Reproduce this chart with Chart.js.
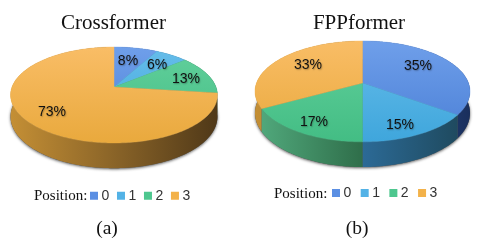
<!DOCTYPE html>
<html><head><meta charset="utf-8">
<script src="https://cdn.jsdelivr.net/npm/chart.js@4"></script>
<style>
html,body{margin:0;padding:0;background:#fff;width:484px;height:246px;overflow:hidden}
.w{position:absolute;top:0;height:246px}
canvas{display:block;filter:blur(.3px)}
</style></head><body>
<div class="w" style="left:0;width:227px"><canvas id="a"></canvas></div>
<div class="w" style="left:242px;width:234px"><canvas id="b"></canvas></div>
<script>
const positions = ['0','1','2','3'];
const crossformerValues = [8,6,13,73];
const fppformerValues = [35,15,17,33];
const titles = ['Crossformer','FPPformer'];
const captions = ['(a)','(b)'];
const legendPrefix = 'Position:';

const baseColors = ['#5b8fe3','#53b2e6','#4ec78f','#f3b24a'];
const topLight = ['#6f9fea','#66bdea','#62d09c','#f9bd66'];
const topDark  = ['#4a7fd6','#3fa6dc','#43bd84','#e9a93d'];
const wallLeft = ['#4a78c0','#5aa8d0','#52ab7e','#c48f35'];
const wallMid  = ['#2f5aa0','#2c6a96','#2f6e4a','#8a6428'];
const wallRight= ['#1a2f5c','#1d4658','#1e4a30','#4f3818'];

const K = 1/6, DEPTH = 21;

const pie3d = {
  id:'pie3d',
  afterLayout(chart,_,o){
    const l = chart.legend, p = l.options.labels.padding;
    l.left = o.legendX - p; l.right = l.left + 400; l.top = o.legendY - p; l.bottom = l.top + 50;
  },
  beforeDatasetDraw(chart,args,o){
    const ctx = chart.ctx, arcs = args.meta.data, vals = chart.data.datasets[0].data;
    const a0 = arcs[0], R = a0.outerRadius, S = R*o.tilt;
    const ax = a0.x + o.dx, ay = o.apexY;
    const pt = (t,d)=>{const u=Math.cos(t),v=Math.sin(t),w=1-K*v;return [ax+R*u/w, ay+S*v/w+(d?DEPTH/w:0)];};
    const rx = R*1.0142, minX = ax-rx, maxX = ax+rx;
    const steps = a=>Math.max(2,Math.ceil(Math.abs(a)*60));
    const rimPath = (s,e,d,move)=>{const n=steps(e-s);for(let i=0;i<=n;i++){const p=pt(s+(e-s)*i/n,d);(i||!move)?ctx.lineTo(p[0],p[1]):ctx.moveTo(p[0],p[1]);}};
    ctx.save();
    ctx.save();
    ctx.shadowColor='rgba(0,0,0,.65)';ctx.shadowBlur=3;ctx.shadowOffsetY=1;ctx.fillStyle='#555';
    ctx.beginPath();rimPath(0,Math.PI*2,true,true);ctx.closePath();ctx.fill();
    ctx.restore();
    arcs.forEach((arc,i)=>{
      const g = ctx.createLinearGradient(minX,0,maxX,0);
      g.addColorStop(0,wallLeft[i]);g.addColorStop(.5,wallMid[i]);g.addColorStop(1,wallRight[i]);
      ctx.fillStyle=g;
      ctx.beginPath();rimPath(arc.startAngle,arc.endAngle,false,true);rimPath(arc.endAngle,arc.startAngle,true,false);ctx.closePath();ctx.fill();
    });
    arcs.forEach((arc,i)=>{
      const g = ctx.createLinearGradient(0,ay-S/(1+K),0,ay+S/(1-K));
      g.addColorStop(0,topLight[i]);g.addColorStop(1,topDark[i]);
      ctx.fillStyle=g;ctx.strokeStyle=g;ctx.lineWidth=.4;
      ctx.beginPath();ctx.moveTo(ax,ay);rimPath(arc.startAngle,arc.endAngle,false,false);ctx.closePath();ctx.fill();ctx.stroke();
    });
    ctx.font='14px "Liberation Sans"';ctx.textAlign='center';ctx.textBaseline='middle';ctx.fillStyle='#111';
    ctx.shadowColor='rgba(0,0,0,.3)';ctx.shadowBlur=1.5;ctx.shadowOffsetX=.7;ctx.shadowOffsetY=.7;
    arcs.forEach((arc,i)=>{
      const m=(arc.startAngle+arc.endAngle)/2,p=pt(m,false);
      ctx.fillText(vals[i]+'%',ax+(p[0]-ax)*.7+o.nudge[i][0],ay+(p[1]-ay)*.7+o.nudge[i][1]);
    });
    ctx.restore();
    return false;
  },
  afterDraw(chart,_,o){
    const ctx=chart.ctx;ctx.save();ctx.fillStyle='#111';ctx.textBaseline='alphabetic';
    ctx.font='15px "Liberation Serif"';ctx.textAlign='left';
    ctx.fillText(legendPrefix,o.prefixX,o.prefixY);
    ctx.font='19.5px "Liberation Serif"';ctx.textAlign='center';
    ctx.fillText(o.caption,o.captionX,234);
    ctx.restore();
  }
};

function make(id,values,title,radius,padding,opts){
  const el=document.getElementById(id);
  new Chart(el,{
    type:'pie',
    data:{labels:positions,datasets:[{data:values,backgroundColor:baseColors,borderWidth:0,radius:radius}]},
    plugins:[pie3d],
    options:{
      responsive:true,maintainAspectRatio:false,animation:false,
      plugins:{
        tooltip:{enabled:false},
        title:{display:true,text:title,color:'#111',font:{family:'"Liberation Serif"',size:21,weight:'normal'},padding:{top:11,bottom:0}},
        legend:{position:'bottom',align:'start',labels:{boxWidth:1,boxHeight:1,padding:padding,color:'#333',font:{family:'"Liberation Sans"',size:14},
          generateLabels(chart){
            return Chart.overrides.pie.plugins.legend.labels.generateLabels(chart).map(it=>Object.assign(it,{lineWidth:7,strokeStyle:it.fillStyle}));
          }}},
        pie3d:opts
      }
    }
  });
}
make('a',crossformerValues,titles[0],102,11.2,{dx:.5,apexY:87,tilt:.4575,legendX:93.5,legendY:188.7,prefixX:34,prefixY:199.5,captionX:107,caption:captions[0],
  nudge:[[-1.3,1.7],[2.7,.8],[6.5,1.2],[-1.8,1.2]]});
make('b',fppformerValues,titles[1],106,12.9,{dx:3.5,apexY:83,tilt:.4627,legendX:93.5,legendY:186,prefixX:32,prefixY:197.5,captionX:115,caption:captions[1],
  nudge:[[-6,-2],[-2,6.5],[-4.4,5],[4.4,-1.4]]});
</script>
</body></html>
